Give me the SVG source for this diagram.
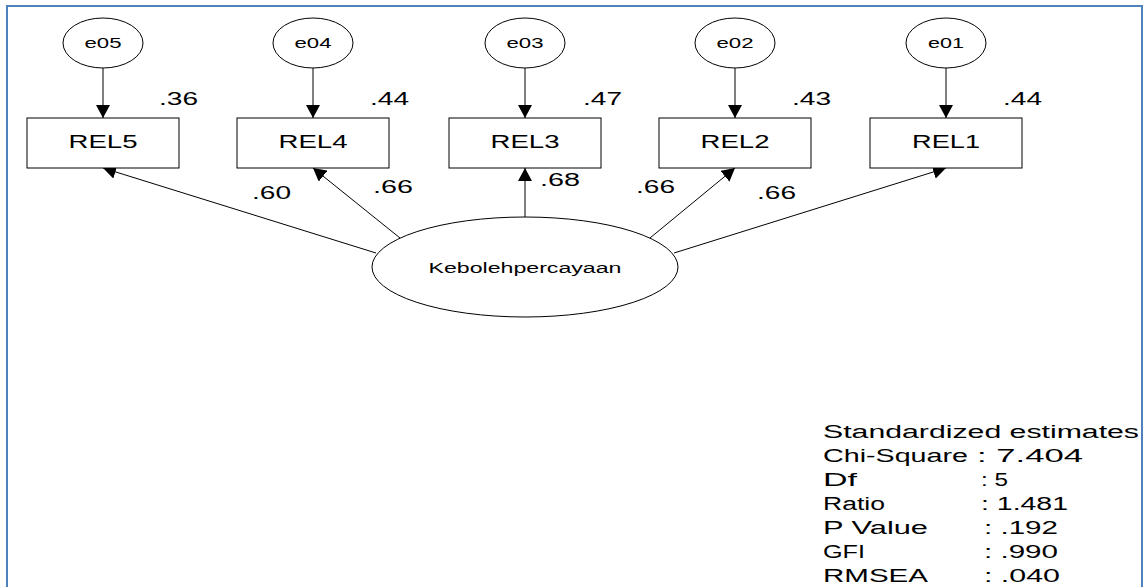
<svg xmlns="http://www.w3.org/2000/svg" width="1147" height="587" viewBox="0 0 1147 587">
  <style>
    text { font-family: "Liberation Sans", Arial, sans-serif; fill: #000; }
    .obs { fill: #fff; stroke: #000; stroke-width: 1; }
    .err { fill: #fff; stroke: #000; stroke-width: 1; }
    .lat { fill: #fff; stroke: #000; stroke-width: 1; }
    .edge { stroke: #000; stroke-width: 1; fill: none; marker-end: url(#arrow); }
    .box-label { font-size: 18px; text-anchor: middle; }
    .err-label { font-size: 15px; text-anchor: middle; }
    .coef { font-size: 17.5px; }
    .stat { font-size: 18px; }
  </style>
  <defs>
    <marker id="arrow" markerUnits="userSpaceOnUse" markerWidth="14" markerHeight="14" refX="13" refY="7" orient="auto">
      <path d="M0,0 L13,7 L0,14 z" fill="#000"/>
    </marker>
  </defs>

  <rect x="0" y="0" width="1147" height="587" fill="#fff"/>
  <!-- frame -->
  <rect x="7" y="6" width="1135" height="620" fill="none" stroke="#4F81BD" stroke-width="2"/>

  <!-- connectors -->
  <g id="connectors">
    <line class="edge" x1="103" y1="68" x2="103" y2="118"/>
    <line class="edge" x1="313" y1="68" x2="313" y2="118"/>
    <line class="edge" x1="525" y1="68" x2="525" y2="118"/>
    <line class="edge" x1="735" y1="68" x2="735" y2="118"/>
    <line class="edge" x1="946" y1="68" x2="946" y2="118"/>

    <line class="edge" x1="376" y1="253" x2="103" y2="168"/>
    <line class="edge" x1="400" y1="238" x2="313" y2="168"/>
    <line class="edge" x1="525" y1="217" x2="525" y2="168"/>
    <line class="edge" x1="650" y1="238" x2="735" y2="168"/>
    <line class="edge" x1="674" y1="253" x2="946" y2="168"/>
  </g>

  <!-- error terms -->
  <g id="e05"><ellipse class="err" cx="103" cy="43" rx="40" ry="25"/><text class="err-label" x="103" y="48" textLength="37" lengthAdjust="spacingAndGlyphs">e05</text></g>
  <g id="e04"><ellipse class="err" cx="313" cy="43" rx="40" ry="25"/><text class="err-label" x="313" y="48" textLength="37" lengthAdjust="spacingAndGlyphs">e04</text></g>
  <g id="e03"><ellipse class="err" cx="525" cy="43" rx="40" ry="25"/><text class="err-label" x="525" y="48" textLength="37" lengthAdjust="spacingAndGlyphs">e03</text></g>
  <g id="e02"><ellipse class="err" cx="735" cy="43" rx="40" ry="25"/><text class="err-label" x="735" y="48" textLength="37" lengthAdjust="spacingAndGlyphs">e02</text></g>
  <g id="e01"><ellipse class="err" cx="946" cy="43" rx="40" ry="25"/><text class="err-label" x="946" y="48" textLength="36" lengthAdjust="spacingAndGlyphs">e01</text></g>

  <!-- observed indicators -->
  <g id="REL5"><rect class="obs" x="27" y="118" width="152" height="50"/><text class="box-label" x="103" y="148" textLength="69" lengthAdjust="spacingAndGlyphs">REL5</text></g>
  <g id="REL4"><rect class="obs" x="237" y="118" width="152" height="50"/><text class="box-label" x="313" y="148" textLength="69" lengthAdjust="spacingAndGlyphs">REL4</text></g>
  <g id="REL3"><rect class="obs" x="449" y="118" width="152" height="50"/><text class="box-label" x="525" y="148" textLength="69" lengthAdjust="spacingAndGlyphs">REL3</text></g>
  <g id="REL2"><rect class="obs" x="659" y="118" width="152" height="50"/><text class="box-label" x="735" y="148" textLength="69" lengthAdjust="spacingAndGlyphs">REL2</text></g>
  <g id="REL1"><rect class="obs" x="870" y="118" width="152" height="50"/><text class="box-label" x="946" y="148" textLength="68" lengthAdjust="spacingAndGlyphs">REL1</text></g>

  <!-- latent factor -->
  <g id="Kebolehpercayaan">
    <ellipse class="lat" cx="525" cy="267" rx="153" ry="50"/>
    <text x="525" y="273" font-size="15.5" text-anchor="middle" textLength="193" lengthAdjust="spacingAndGlyphs">Kebolehpercayaan</text>
  </g>

  <!-- squared multiple correlations -->
  <g id="r2">
    <text class="coef" x="159" y="105" textLength="39" lengthAdjust="spacingAndGlyphs">.36</text>
    <text class="coef" x="370" y="105" textLength="39" lengthAdjust="spacingAndGlyphs">.44</text>
    <text class="coef" x="583" y="105" textLength="39" lengthAdjust="spacingAndGlyphs">.47</text>
    <text class="coef" x="792" y="105" textLength="39" lengthAdjust="spacingAndGlyphs">.43</text>
    <text class="coef" x="1003" y="105" textLength="39" lengthAdjust="spacingAndGlyphs">.44</text>
  </g>

  <!-- factor loadings -->
  <g id="loadings">
    <text class="coef" x="252" y="199" textLength="39" lengthAdjust="spacingAndGlyphs">.60</text>
    <text class="coef" x="373" y="193" textLength="40" lengthAdjust="spacingAndGlyphs">.66</text>
    <text class="coef" x="540" y="186" textLength="40" lengthAdjust="spacingAndGlyphs">.68</text>
    <text class="coef" x="636" y="193" textLength="39" lengthAdjust="spacingAndGlyphs">.66</text>
    <text class="coef" x="757" y="199" textLength="39" lengthAdjust="spacingAndGlyphs">.66</text>
  </g>

  <!-- fit statistics -->
  <g id="fit">
    <text class="stat" x="823" y="438" textLength="316" lengthAdjust="spacingAndGlyphs">Standardized estimates</text>
    <text class="stat" x="823" y="462" textLength="145" lengthAdjust="spacingAndGlyphs">Chi-Square</text>
    <text class="stat" x="977" y="462" textLength="106" lengthAdjust="spacingAndGlyphs">: 7.404</text>
    <text class="stat" x="823" y="486" textLength="34" lengthAdjust="spacingAndGlyphs">Df</text>
    <text class="stat" x="981" y="486" textLength="27" lengthAdjust="spacingAndGlyphs">: 5</text>
    <text class="stat" x="823" y="510" textLength="62" lengthAdjust="spacingAndGlyphs">Ratio</text>
    <text class="stat" x="981" y="510" textLength="87" lengthAdjust="spacingAndGlyphs">: 1.481</text>
    <text class="stat" x="823" y="534" textLength="105" lengthAdjust="spacingAndGlyphs">P Value</text>
    <text class="stat" x="984" y="534" textLength="74" lengthAdjust="spacingAndGlyphs">: .192</text>
    <text class="stat" x="823" y="558" textLength="42" lengthAdjust="spacingAndGlyphs">GFI</text>
    <text class="stat" x="984" y="558" textLength="74" lengthAdjust="spacingAndGlyphs">: .990</text>
    <text class="stat" x="823" y="582" textLength="105" lengthAdjust="spacingAndGlyphs">RMSEA</text>
    <text class="stat" x="984" y="582" textLength="76" lengthAdjust="spacingAndGlyphs">: .040</text>
  </g>
</svg>
